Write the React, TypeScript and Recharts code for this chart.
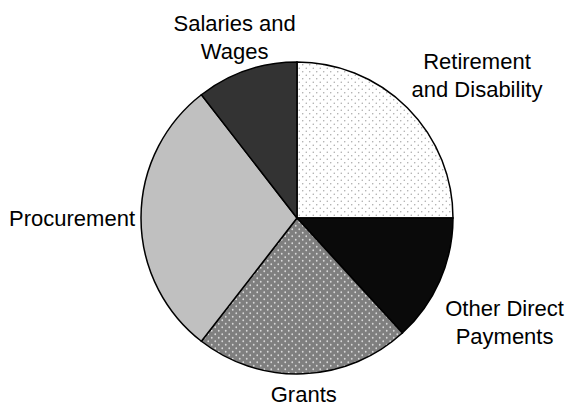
import { PieChart, Pie, Cell } from 'recharts'

const categories = ['Retirement\nand Disability', 'Other Direct\nPayments', 'Grants', 'Procurement', 'Salaries and\nWages']
const shares = [25, 13.2, 22.3, 29, 10.5]
const fills = ['url(#dotsLight)', '#0a0a0a', 'url(#dotsDark)', '#c0c0c0', '#333333']

const data = categories.map((name, i) => ({ name, value: shares[i] }))

const FONT = '"Liberation Sans", Arial, sans-serif'
const FONT_SIZE = 22
const LINE_H = 28
// the source chart drops the lower-right label a bit below its slice
const labelDrop: Record<string, number> = { 'Other Direct\nPayments': 26 }

let ctx: CanvasRenderingContext2D | null = null
const measure = (s: string) => {
  if (!ctx) {
    ctx = document.createElement('canvas').getContext('2d')
    if (ctx) ctx.font = `${FONT_SIZE}px ${FONT}`
  }
  return ctx ? ctx.measureText(s).width : s.length * FONT_SIZE * 0.55
}

const RAD = Math.PI / 180

const renderLabel = (props: any) => {
  const { cx, cy, midAngle, outerRadius, name } = props
  const lines: string[] = String(name).split('\n')
  const cos = Math.cos(-midAngle * RAD)
  const sin = Math.sin(-midAngle * RAD)
  const m = Math.max(Math.abs(cos), Math.abs(sin))
  const c = Math.sign(cos) * Math.pow(Math.abs(cos / m), 1.7)
  const s = sin / m
  const r = outerRadius + 6
  const px = cx + r * cos
  const py = cy + r * sin
  const hw = Math.max(...lines.map(measure)) / 2
  const hh = (lines.length * LINE_H) / 2
  const bx = px + hw * c
  const by = py + hh * s + (labelDrop[name] ?? 0)
  const top = by - ((lines.length - 1) * LINE_H) / 2
  return (
    <text
      x={bx}
      y={top}
      textAnchor="middle"
      dominantBaseline="central"
      fill="#000"
      fontFamily={FONT}
      fontSize={FONT_SIZE}
    >
      {lines.map((l, i) => (
        <tspan key={i} x={bx} y={top + i * LINE_H}>
          {l}
        </tspan>
      ))}
    </text>
  )
}

export default function App() {
  return (
    <div style={{ position: 'relative', width: 567, height: 407, background: '#fff' }}>
      <style>{`body{margin:0}`}</style>
      <svg width={0} height={0} style={{ position: 'absolute' }}>
        <defs>
          <pattern id="dotsLight" width={7} height={7} patternUnits="userSpaceOnUse">
            <rect width={7} height={7} fill="#ffffff" />
            <circle cx={1.75} cy={1.75} r={0.7} fill="#a0a0a0" />
            <circle cx={5.25} cy={5.25} r={0.7} fill="#a0a0a0" />
          </pattern>
          <pattern id="dotsDark" width={7} height={7} patternUnits="userSpaceOnUse">
            <rect width={7} height={7} fill="#7f7f7f" />
            <circle cx={1.75} cy={1.75} r={0.9} fill="#d8d8d8" />
            <circle cx={5.25} cy={5.25} r={0.9} fill="#d8d8d8" />
          </pattern>
        </defs>
      </svg>
      <PieChart width={567} height={407} margin={{ top: 0, right: 0, bottom: 0, left: 0 }}>
        <Pie
          data={data}
          dataKey="value"
          nameKey="name"
          cx={297}
          cy={218}
          outerRadius={156}
          startAngle={90}
          endAngle={-270}
          stroke="#000"
          strokeWidth={1.5}
          label={renderLabel}
          labelLine={false}
          isAnimationActive={false}
        >
          {data.map((d, i) => (
            <Cell key={d.name} fill={fills[i]} />
          ))}
        </Pie>
      </PieChart>
    </div>
  )
}
